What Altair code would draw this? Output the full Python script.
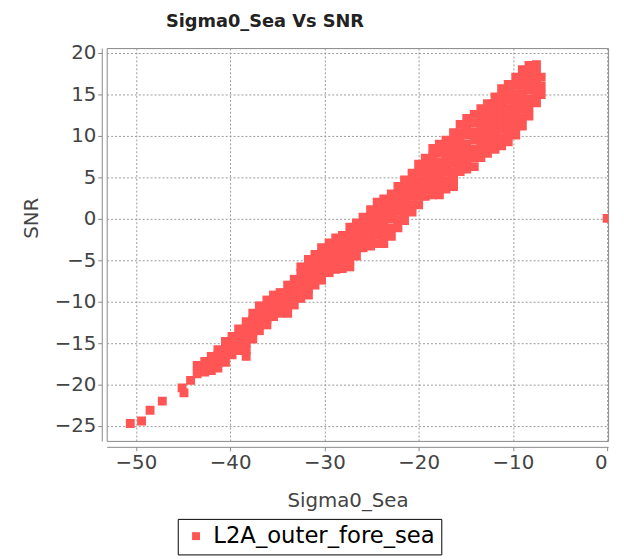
import altair as alt
import pandas as pd

# ---- data ----
series_name = "L2A_outer_fore_sea"

# isolated points (Sigma0_Sea, SNR)
outlier_x = [-50.6, -49.4, -48.5, -47.2, -45.1, -44.9, -44.2, 0.0]
outlier_y = [-24.7, -24.4, -23.1, -22.0, -20.4, -21.0, -19.5, 0.05]

# dense band: Sigma0_Sea column positions and SNR values seen in each column
band_x = [-43.5, -42.7, -42.0, -41.3, -40.5, -39.8, -39.1, -38.3, -37.6, -36.9,
          -36.1, -35.4, -34.7, -33.9, -33.2, -32.5, -31.7, -31.0, -30.3, -29.5,
          -28.8, -28.1, -27.3, -26.6, -25.9, -25.1, -24.4, -23.7, -22.9, -22.2,
          -21.5, -20.7, -20.0, -19.3, -18.5, -17.8, -17.1, -16.3, -15.6, -14.9,
          -14.1, -13.4, -12.7, -11.9, -11.2, -10.5, -9.7, -9.0, -8.3, -7.5, -7.0]
band_y = [
    [-17.7, -18.7],
    [-17.2, -17.9, -18.5],
    [-16.6, -17.5, -18.3],
    [-15.8, -16.5, -17.3, -18.0],
    [-14.8, -15.6, -16.5, -17.3],
    [-14.2, -14.9, -15.7, -16.4],
    [-13.3, -14.2, -15.0, -15.9],
    [-12.4, -13.3, -14.1, -15.0, -15.8, -16.6],
    [-11.4, -12.2, -13.0, -13.7, -14.5],
    [-10.5, -11.3, -12.0, -12.8, -13.5],
    [-9.8, -10.6, -11.3, -12.1, -12.8],
    [-9.2, -10.1, -10.9, -11.8],
    [-8.9, -9.7, -10.6, -11.4],
    [-8.0, -8.9, -9.7, -10.6, -11.4],
    [-7.3, -8.1, -8.8, -9.6, -10.4],
    [-5.8, -6.6, -7.3, -8.1, -8.8, -9.6],
    [-4.9, -5.8, -6.7, -7.5, -8.4, -9.2],
    [-4.3, -5.2, -6.2, -7.1, -8.0],
    [-3.5, -4.5, -5.4, -6.4, -7.4],
    [-2.9, -3.8, -4.7, -5.6, -6.5],
    [-2.3, -3.3, -4.2, -5.2, -6.1],
    [-2.0, -3.0, -4.0, -5.0, -6.0],
    [-1.0, -2.0, -2.9, -3.9, -4.8, -5.8],
    [-0.5, -1.5, -2.5, -3.5, -4.5],
    [0.2, -0.7, -1.6, -2.6, -3.5],
    [1.1, 0.2, -0.7, -1.5, -2.4, -3.3],
    [2.0, 1.0, 0.0, -1.0, -2.0, -3.0],
    [2.4, 1.5, 0.6, -0.3, -1.2, -2.1, -3.0],
    [3.0, 2.0, 1.0, 0.0, -1.1, -2.1],
    [3.9, 2.9, 1.9, 0.9, -0.1, -1.1],
    [4.7, 3.7, 2.7, 1.8, 0.8, -0.2],
    [5.5, 4.6, 3.6, 2.7, 1.7, 0.8],
    [6.6, 5.6, 4.6, 3.7, 2.7, 1.7],
    [7.3, 6.4, 5.5, 4.5, 3.6, 2.7],
    [8.5, 7.6, 6.6, 5.7, 4.8, 3.8, 2.9],
    [9.0, 8.0, 6.9, 5.9, 4.9, 3.9, 2.9],
    [9.5, 8.5, 7.6, 6.6, 5.6, 4.6, 3.6],
    [10.4, 9.5, 8.6, 7.6, 6.7, 5.7, 4.8, 3.9],
    [11.4, 10.4, 9.5, 8.5, 7.6, 6.6, 5.7],
    [12.1, 11.1, 10.1, 9.0, 8.0, 7.0, 6.0],
    [12.6, 11.6, 10.5, 9.5, 8.4, 7.4, 6.3],
    [13.3, 12.3, 11.3, 10.4, 9.4, 8.4, 7.4],
    [13.9, 12.9, 11.9, 10.9, 9.9, 8.9, 7.9],
    [14.7, 13.8, 12.9, 12.0, 11.1, 10.2, 9.3, 8.4],
    [15.7, 14.7, 13.7, 12.8, 11.8, 10.8, 9.8, 8.8],
    [16.2, 15.2, 14.3, 13.3, 12.3, 11.3, 10.3, 9.3],
    [17.1, 16.1, 15.1, 14.1, 13.1, 12.1, 11.1, 10.1],
    [18.0, 17.0, 16.1, 15.1, 14.1, 13.2, 12.2, 11.2],
    [18.5, 17.5, 16.5, 15.5, 14.4, 13.4, 12.4],
    [18.6, 17.6, 16.7, 15.8, 14.9, 14.0],
    [17.1, 16.0, 15.0],
]

x_ticks = [-50, -40, -30, -20, -10, 0]
y_ticks = [-25, -20, -15, -10, -5, 0, 5, 10, 15, 20]
x_domain = [-53.1, 0.1]
y_domain = [-26.8, 20.6]

rows = []
for xv, ys in zip(band_x, band_y):
    for yv in ys:
        rows.append({"Sigma0_Sea": xv, "SNR": yv, "series": series_name})
for xv, yv in zip(outlier_x, outlier_y):
    rows.append({"Sigma0_Sea": xv, "SNR": yv, "series": series_name})
df = pd.DataFrame(rows)

FONT = "DejaVu Sans"

chart = alt.Chart(df).mark_square(size=81, opacity=1, clip=True).encode(
    x=alt.X("Sigma0_Sea:Q",
            scale=alt.Scale(domain=x_domain, nice=False, zero=False),
            axis=alt.Axis(values=x_ticks, title="Sigma0_Sea", offset=6,
                          titleX=244, titleY=54, titleBaseline="middle")),
    y=alt.Y("SNR:Q",
            scale=alt.Scale(domain=y_domain, nice=False, zero=False),
            axis=alt.Axis(values=y_ticks, title="SNR", offset=5,
                          titleX=-71, titleY=172, titleBaseline="middle",
                          titleAngle=270)),
    color=alt.Color("series:N",
                    scale=alt.Scale(range=["#FF5555"]),
                    legend=alt.Legend(title=None, orient="none",
                                      legendX=72, legendY=477,
                                      symbolType="square", symbolSize=64,
                                      symbolStrokeWidth=0, symbolOffset=1,
                                      labelFontSize=23, labelColor="#000",
                                      labelFont=FONT, labelLimit=0,
                                      labelOffset=6,
                                      strokeColor="#000", padding=6,
                                      fillColor="#fff")),
).properties(
    width=508,
    height=398,
    background="white",
    autosize=alt.AutoSizeParams(type="none"),
    padding={"left": 100, "top": 37, "right": 8, "bottom": 114},
    title=alt.TitleParams("Sigma0_Sea Vs SNR", anchor="start", frame="group",
                          dx=60, fontSize=18, fontWeight="bold",
                          color="#222", font=FONT, offset=12),
).configure_view(
    stroke="#888", strokeWidth=1
).configure_axis(
    labelFont=FONT, titleFont=FONT,
    labelFontSize=20, titleFontSize=20,
    labelColor="#444", titleColor="#444", titleFontWeight="normal",
    domainColor="#888", tickColor="#888", tickSize=4,
    labelPadding=2,
    grid=True, gridColor="#999", gridDash=[2, 2], gridWidth=1,
)

chart.save("out.html", embed_options={"renderer": "svg", "actions": False})
